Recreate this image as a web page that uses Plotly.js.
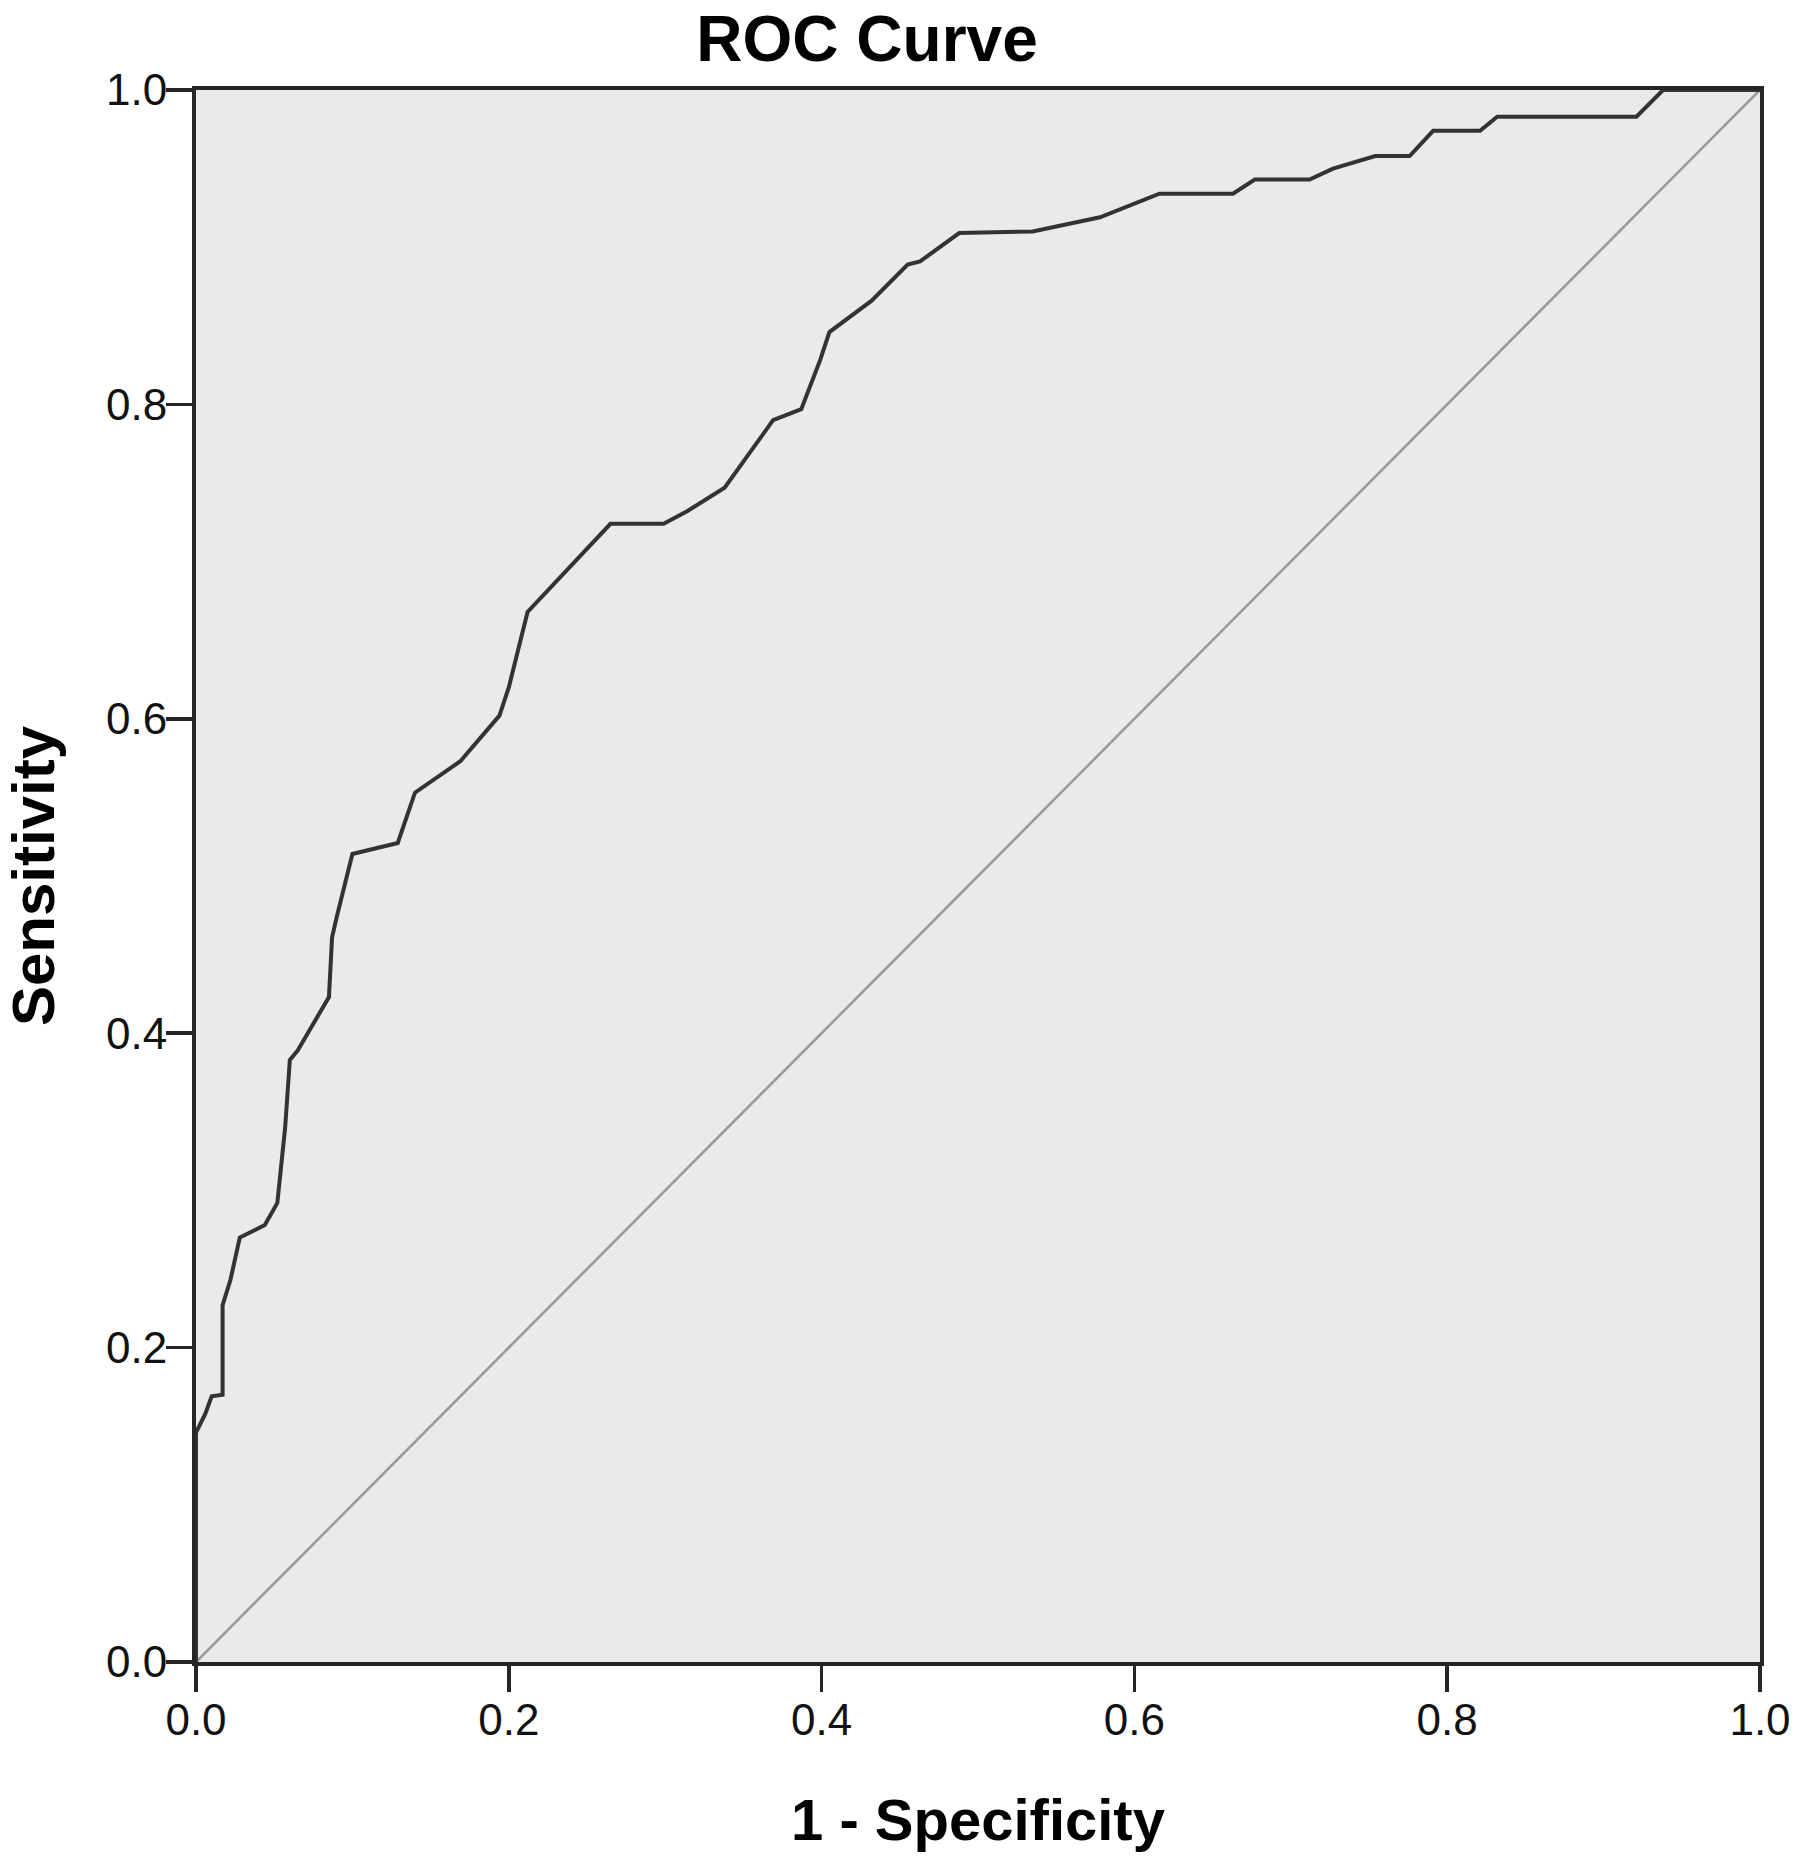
<!DOCTYPE html>
<html>
<head>
<meta charset="utf-8">
<script src="https://cdn.plot.ly/plotly-3.0.1.min.js"></script>
<style>html,body{margin:0;padding:0;background:#fff;}#chart{width:1800px;height:1862px;}</style>
</head>
<body>
<div id="chart"></div>
<script>
// ROC curve points (1 - Specificity, Sensitivity)
const fpr = [0.000, 0.000, 0.006, 0.010, 0.017, 0.017, 0.022, 0.028, 0.044, 0.052, 0.057, 0.060, 0.065,
             0.085, 0.087, 0.090, 0.100, 0.129, 0.140, 0.169, 0.194, 0.200, 0.212, 0.233, 0.265, 0.299,
             0.314, 0.338, 0.369, 0.387, 0.399, 0.405, 0.432, 0.455, 0.463, 0.488, 0.535, 0.578, 0.616,
             0.663, 0.677, 0.712, 0.727, 0.754, 0.776, 0.791, 0.821, 0.832, 0.921, 0.938, 1.000];
const tpr = [0.000, 0.146, 0.158, 0.169, 0.170, 0.227, 0.243, 0.270, 0.278, 0.292, 0.340, 0.383, 0.389,
             0.423, 0.461, 0.474, 0.514, 0.521, 0.553, 0.573, 0.602, 0.620, 0.668, 0.690, 0.724, 0.724,
             0.732, 0.747, 0.790, 0.797, 0.828, 0.846, 0.866, 0.889, 0.891, 0.909, 0.910, 0.919, 0.934,
             0.934, 0.943, 0.943, 0.950, 0.958, 0.958, 0.974, 0.974, 0.983, 0.983, 1.000, 1.000];
// Reference (chance) line
const refX = [0, 1];
const refY = [0, 1];
const tickVals = [0, 0.2, 0.4, 0.6, 0.8, 1.0];
const tickText = ["0.0", "0.2", "0.4", "0.6", "0.8", "1.0"];

const FONT = "Liberation Sans, Arial, Helvetica, sans-serif";

const traces = [
  {x: refX, y: refY, mode: "lines", line: {color: "#9a9a9a", width: 2.6}, hoverinfo: "skip", showlegend: false},
  {x: fpr, y: tpr, mode: "lines", line: {color: "#333333", width: 4}, showlegend: false}
];

const axisCommon = {
  range: [0, 1], tickvals: tickVals, ticktext: tickText,
  showgrid: false, zeroline: false,
  showline: true, mirror: true, linecolor: "#262626", linewidth: 4,
  ticks: "outside", ticklen: 26, tickwidth: 3.5, tickcolor: "#262626",
  ticklabelstandoff: -10,
  tickfont: {family: FONT, size: 44, color: "#111"},
  fixedrange: true
};

const layout = {
  width: 1800, height: 1862,
  paper_bgcolor: "#ffffff", plot_bgcolor: "#eaeaea",
  margin: {l: 196, r: 40, t: 90, b: 200, pad: 0},
  title: {text: "ROC Curve", x: 0.4817, xanchor: "center", y: 0.9795, yanchor: "middle",
          font: {family: FONT, size: 64, color: "#000", weight: "bold"}},
  xaxis: Object.assign({}, axisCommon, {
    title: {text: "1 - Specificity", standoff: 58, font: {family: FONT, size: 58, color: "#000", weight: "bold"}}
  }),
  yaxis: Object.assign({}, axisCommon, {
    title: {text: "Sensitivity", standoff: 48, font: {family: FONT, size: 60, color: "#000", weight: "bold"}}
  }),
  showlegend: false
};

Plotly.newPlot("chart", traces, layout, {staticPlot: true, displayModeBar: false});
</script>
</body>
</html>
